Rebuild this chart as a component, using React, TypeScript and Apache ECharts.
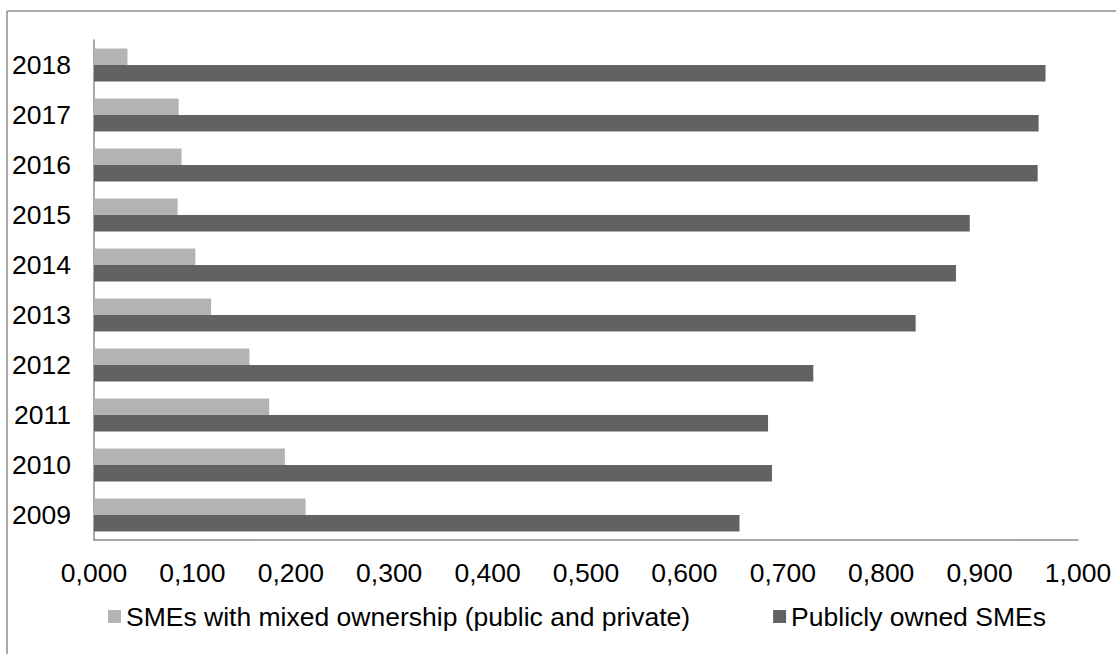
import React, { useEffect, useRef } from "react";
import * as echarts from "echarts";

const years = ["2009", "2010", "2011", "2012", "2013", "2014", "2015", "2016", "2017", "2018"];
const mixedOwnership = [0.215, 0.194, 0.178, 0.158, 0.119, 0.103, 0.085, 0.089, 0.086, 0.034];
const publiclyOwned = [0.656, 0.689, 0.685, 0.731, 0.835, 0.876, 0.89, 0.959, 0.96, 0.967];
const seriesNames = ["SMEs with mixed ownership (public and private)", "Publicly owned SMEs"];

const FONT = "'Liberation Sans', Arial, sans-serif";
const FS = 26.5;

export default function App() {
  const ref = useRef<HTMLDivElement>(null);
  useEffect(() => {
    if (!ref.current) return;
    const chart = echarts.init(ref.current, undefined, { renderer: "svg" });
    chart.setOption({
      animation: false,
      backgroundColor: "#ffffff",
      textStyle: { fontFamily: FONT },
      grid: { left: 94, right: 38, top: 40, bottom: 114, containLabel: false },
      graphic: [
        { type: "line", shape: { x1: 7, y1: 11, x2: 1116, y2: 11 }, style: { stroke: "#8c8c8c", lineWidth: 1.5 } },
        { type: "line", shape: { x1: 7, y1: 11, x2: 7, y2: 654 }, style: { stroke: "#8c8c8c", lineWidth: 1.5 } },
      ],
      legend: {
        left: 108,
        top: 603,
        padding: 0,
        itemWidth: 13,
        itemHeight: 13,
        itemGap: 83,
        icon: "rect",
        data: seriesNames,
        textStyle: { fontFamily: FONT, fontSize: FS, color: "#000" },
      },
      xAxis: {
        type: "value",
        min: 0,
        max: 1,
        interval: 0.1,
        axisLine: { show: true, lineStyle: { color: "#8c8c8c", width: 1.5 } },
        axisTick: { show: false },
        splitLine: { show: false },
        axisLabel: {
          margin: 19,
          color: "#000",
          fontFamily: FONT,
          fontSize: FS,
          formatter: (v: number) => v.toFixed(3).replace(".", ","),
        },
      },
      yAxis: {
        type: "category",
        data: years,
        axisLine: { show: true, lineStyle: { color: "#8c8c8c", width: 1.5 } },
        axisTick: { show: false },
        splitLine: { show: false },
        axisLabel: { margin: 23, color: "#000", fontFamily: FONT, fontSize: FS },
      },
      series: [
        {
          name: seriesNames[0],
          type: "bar",
          data: mixedOwnership,
          barWidth: "33%",
          barGap: "0%",
          itemStyle: { color: "#b3b3b3" },
        },
        {
          name: seriesNames[1],
          type: "bar",
          data: publiclyOwned,
          barWidth: "33%",
          barGap: "0%",
          itemStyle: { color: "#626262" },
        },
      ],
    });
    return () => chart.dispose();
  }, []);
  return (
    <div
      ref={ref}
      style={{ position: "fixed", left: 0, top: 0, width: 1116, height: 654, background: "#fff" }}
    />
  );
}
